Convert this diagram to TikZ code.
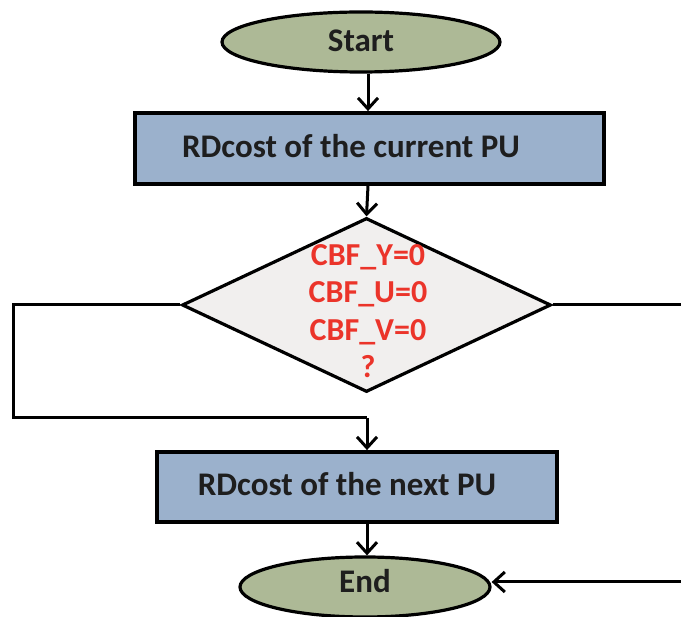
\documentclass[tikz,border=0pt]{standalone}
\usepackage{fontspec}
\setmainfont{Carlito}
\usetikzlibrary{shapes.geometric,arrows.meta}
\definecolor{termfill}{RGB}{173,185,150}
\definecolor{boxfill}{RGB}{155,177,204}
\definecolor{decfill}{RGB}{241,239,238}
\definecolor{redtxt}{RGB}{235,52,42}
\definecolor{inktxt}{RGB}{30,30,30}
\begin{document}
\begin{tikzpicture}[x=1pt,y=-1pt,
  term/.style={ellipse,draw=black,line width=3.2pt,fill=termfill,inner sep=0pt},
  procbox/.style={rectangle,draw=black,line width=3.8pt,fill=boxfill,inner sep=0pt},
  decision/.style={diamond,draw=black,line width=3.2pt,fill=decfill,inner sep=0pt},
  label/.style={font=\fontsize{33}{36}\selectfont\bfseries,text=inktxt,inner sep=0pt},
  conn/.style={draw=black,line width=3pt},
  arr/.style={conn,-{Straight Barb[length=11pt,width=20pt,line width=3pt]}}]
\useasboundingbox (0,0) rectangle (681,617);
\node[term,minimum width=278pt,minimum height=60pt] (start) at (361,42) {};
\node[label] (t0) at (361,41) {Start};
\node[procbox,minimum width=469pt,minimum height=71pt] (box1) at (369.5,148.5) {};
\node[label] (t1) at (351,146) {RDcost of the current PU};
\node[decision,minimum width=369pt,minimum height=174pt] (dec) at (366.5,305) {};
\node[label,font=\fontsize{32}{37.5}\selectfont\bfseries,text=redtxt,align=center] (q) at (368,311)
  {CBF\_Y=0\\CBF\_U=0\\CBF\_V=0\\?};
\node[procbox,minimum width=400pt,minimum height=70pt] (box2) at (357,487) {};
\node[label] (t2) at (347,484) {RDcost of the next PU};
\node[term,minimum width=250pt,minimum height=60pt] (endn) at (365,587) {};
\node[label] (t3) at (365,581) {End};
\coordinate (lc1) at (13,305);
\coordinate (lc2) at (13,418);
\coordinate (lc3) at (367,418);
\coordinate (rc1) at (690,305);
\coordinate (rc2) at (690,582);
\draw[arr] (start.south -| 368,0) -- (box1.north -| 368,0);
\draw[arr] (box1.south -| 368,0) -- (dec.north);
\draw[conn] (dec.west) -- (lc1) -- (lc2) -- (lc3);
\draw[arr] (lc3) -- (box2.north -| lc3);
\draw[arr] (box2.south -| lc3) -- (endn.north -| lc3);
\draw[conn] (dec.east) -- (rc1);
\draw[arr] (rc2) -- (endn.east |- rc2);
\end{tikzpicture}
\end{document}
